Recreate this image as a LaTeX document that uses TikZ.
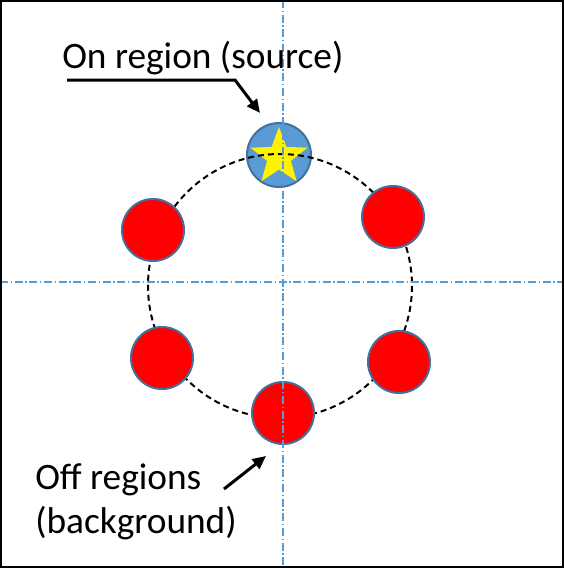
\documentclass[tikz,border=0pt]{standalone}
\usepackage{fontspec}
\setmainfont{Carlito}
\usetikzlibrary{arrows.meta, shapes.geometric}
\definecolor{msblue}{HTML}{5B9BD5}
\definecolor{msedge}{HTML}{41719C}

\begin{document}
\begin{tikzpicture}[x=0.75pt, y=-0.75pt,
    region/.style={circle, draw=msedge, line width=1.5pt, minimum size=46.5pt, inner sep=0pt},
    onreg/.style={region, fill=msblue, minimum size=48pt},
    offreg/.style={region, fill=red},
    axisline/.style={msblue, line width=0.9pt, dash pattern=on 6pt off 2pt on 1pt off 2pt},
    ring/.style={black, line width=1.5pt, dash pattern=on 4.5pt off 3pt},
    pointer/.style={line width=2.25pt, -{Triangle[length=10pt, width=9pt]}},
    lbl/.style={font=\fontsize{28}{33}\selectfont, inner sep=0pt}]
    \useasboundingbox (0,0) rectangle (564,568);

    % On region (source)
    \node[onreg] (src) at (279,155) {};
    \node[star, star points=5, star point ratio=2.4, fill=yellow, inner sep=0pt, minimum size=45pt] (srcstar) at (279,157) {};

    % ring of regions
    \coordinate (ctr) at (280,286);
    \draw[ring] (ctr) circle[radius=132];

    % Off regions (background)
    \node[offreg] (offa) at (153,230) {};
    \node[offreg] (offb) at (393,217) {};
    \node[offreg] (offc) at (162,358) {};
    \node[offreg] (offd) at (399,362) {};
    \node[offreg] (offe) at (283,413) {};

    % dash-dot axes
    \coordinate (vtop) at (283,0);
    \coordinate (vbot) at (283,568);
    \coordinate (hleft) at (0,282);
    \coordinate (hright) at (564,282);
    \draw[axisline] (vtop) -- (vbot);
    \draw[axisline] (hleft) -- (hright);

    % labels and pointers
    \node[lbl, anchor=base west] (onlbl) at (62,68) {On region (source)};
    \coordinate (ontail) at (67,80);
    \coordinate (onbend) at (235,80);
    \coordinate (ontip) at (260,113);
    \draw[pointer] (ontail) -- (onbend) -- (ontip);

    \node[lbl, anchor=base west, align=left] (offlbl) at (35,533) {Off regions\\(background)};
    \coordinate (offtail) at (224,489);
    \coordinate (offtip) at (266,456);
    \draw[pointer] (offtail) -- (offtip);

    % frame
    \draw[line width=1.5pt] (1,1) rectangle (563,567);
\end{tikzpicture}
\end{document}
